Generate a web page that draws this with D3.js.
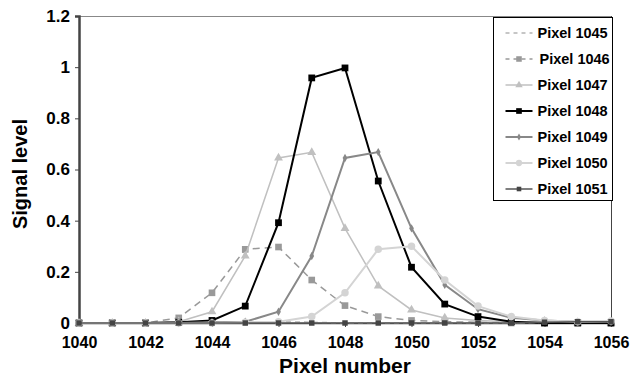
<!DOCTYPE html>
<html>
<head>
<meta charset="utf-8">
<script src="https://cdn.jsdelivr.net/npm/d3@7"></script>
<style>
  body { margin: 0; background: #fff; }
  text { font-family: "Liberation Sans", Arial, sans-serif; font-weight: bold; }
</style>
</head>
<body>
<div class="chart"></div>
<script>
const pixels = [1040, 1041, 1042, 1043, 1044, 1045, 1046, 1047, 1048, 1049, 1050, 1051, 1052, 1053, 1054, 1055, 1056];
const xTicks = [1040, 1042, 1044, 1046, 1048, 1050, 1052, 1054, 1056];
const yTicks = [0, 0.2, 0.4, 0.6, 0.8, 1, 1.2];
const seriesNames = ['Pixel 1045', 'Pixel 1046', 'Pixel 1047', 'Pixel 1048', 'Pixel 1049', 'Pixel 1050', 'Pixel 1051'];

const p1045 = [0, 0, 0, 0, 0.003, 0.005, 0.005, 0.003, 0, 0, 0, 0, 0, 0, 0, 0, 0];
const p1046 = [0, 0, 0, 0.02, 0.118, 0.288, 0.297, 0.168, 0.068, 0.025, 0.01, 0.005, 0.003, 0, 0, 0, 0];
const p1047 = [0, 0, 0, 0.005, 0.044, 0.262, 0.645, 0.667, 0.37, 0.145, 0.051, 0.02, 0.01, 0.005, 0.003, 0, 0];
const p1048 = [0, 0, 0, 0.003, 0.01, 0.066, 0.392, 0.958, 0.997, 0.555, 0.218, 0.074, 0.025, 0.005, 0, 0, 0];
const p1049 = [0, 0, 0, 0, 0.003, 0.005, 0.044, 0.262, 0.645, 0.668, 0.37, 0.149, 0.054, 0.02, 0.01, 0.005, 0.005];
const p1050 = [0, 0, 0, 0, 0, 0.003, 0.005, 0.025, 0.118, 0.288, 0.3, 0.168, 0.066, 0.025, 0.01, 0.005, 0.008];
const p1051 = [0, 0, 0, 0, 0, 0, 0, 0, 0, 0, 0, 0, 0, 0, 0.003, 0.005, 0.005];

const seriesValues = [p1045, p1046, p1047, p1048, p1049, p1050, p1051];

// look of each series
const styles = [
  {stroke: '#b4b4b4', width: 1.5, dash: '5,4', marker: null, fill: null, size: 0},
  {stroke: '#999999', width: 1.5, dash: '7,5', marker: d3.symbolSquare, fill: '#999999', size: 44},
  {stroke: '#c0c0c0', width: 1.5, dash: null, marker: d3.symbolTriangle, fill: '#c0c0c0', size: 34},
  {stroke: '#000000', width: 2, dash: null, marker: d3.symbolSquare, fill: '#000000', size: 46},
  {stroke: '#888888', width: 2, dash: null, marker: d3.symbolDiamond, fill: '#888888', size: 20},
  {stroke: '#d4d4d4', width: 2, dash: null, marker: d3.symbolCircle, fill: '#d4d4d4', size: 44},
  {stroke: '#555555', width: 1.5, dash: null, marker: d3.symbolSquare, fill: '#444444', size: 30}
];

const W = 642, H = 377;
const margin = {top: 16, right: 31, bottom: 54, left: 79};
const width = W - margin.left - margin.right;
const height = H - margin.top - margin.bottom;

const svg = d3.select('.chart')
  .append('svg')
  .attr('width', W)
  .attr('height', H);

const g = svg.append('g')
  .attr('transform', `translate(${margin.left}, ${margin.top})`);

const xScale = d3.scaleLinear().domain([1040, 1056]).range([0, width]);
const yScale = d3.scaleLinear().domain([0, 1.2]).range([height, 0]);

// plot frame (top and right)
g.append('line')
  .attr('x1', 0).attr('x2', width).attr('y1', 0.5).attr('y2', 0.5)
  .attr('stroke', '#888').attr('stroke-width', 1);
g.append('line')
  .attr('x1', width + 0.5).attr('x2', width + 0.5).attr('y1', 0).attr('y2', height)
  .attr('stroke', '#444').attr('stroke-width', 1);

const xAxis = d3.axisBottom(xScale)
  .tickValues(xTicks)
  .tickFormat(d3.format('d'))
  .tickSize(4)
  .tickPadding(10);

const yAxis = d3.axisLeft(yScale)
  .tickValues(yTicks)
  .tickFormat(d => d)
  .tickSize(4)
  .tickPadding(5);

const gx = g.append('g')
  .attr('transform', `translate(0, ${height})`)
  .call(xAxis);
gx.select('.domain').attr('stroke', '#444').attr('stroke-width', 1.5);
gx.selectAll('.tick line').attr('stroke', '#444');
gx.selectAll('.tick text').attr('fill', '#000').style('font-size', '16px').style('font-weight', 'bold')
  .style('font-family', '"Liberation Sans", Arial, sans-serif');

const gy = g.append('g').call(yAxis);
gy.select('.domain').attr('stroke', '#444').attr('stroke-width', 2.5);
gy.selectAll('.tick line').attr('stroke', '#444');
gy.selectAll('.tick text').attr('fill', '#000').style('font-size', '17px').style('font-weight', 'bold')
  .style('font-family', '"Liberation Sans", Arial, sans-serif');

const line = d3.line()
  .x((d, i) => xScale(pixels[i]))
  .y(d => yScale(d));

seriesValues.forEach((vals, k) => {
  const s = styles[k];
  g.append('path')
    .datum(vals)
    .attr('fill', 'none')
    .attr('stroke', s.stroke)
    .attr('stroke-width', s.width)
    .attr('stroke-dasharray', s.dash)
    .attr('d', line);
  if (s.marker) {
    g.selectAll('.m' + k)
      .data(vals)
      .enter()
      .append('path')
      .attr('class', 'm' + k)
      .attr('transform', (d, i) => `translate(${xScale(pixels[i])}, ${yScale(d)})`)
      .attr('d', d3.symbol().type(s.marker).size(s.size))
      .attr('fill', s.fill);
  }
});

// legend
const legend = svg.append('g').attr('transform', 'translate(493.5, 17.5)');
legend.append('rect')
  .attr('width', 119).attr('height', 183)
  .attr('fill', '#fff').attr('stroke', '#000').attr('stroke-width', 1);

seriesNames.forEach((name, k) => {
  const s = styles[k];
  const yy = 15.5 + k * 26;
  const item = legend.append('g').attr('transform', `translate(0, ${yy})`);
  item.append('line')
    .attr('x1', 12).attr('x2', 39).attr('y1', 0).attr('y2', 0)
    .attr('stroke', s.stroke)
    .attr('stroke-width', s.width)
    .attr('stroke-dasharray', s.dash ? '4,4' : null);
  if (s.marker) {
    item.append('path')
      .attr('transform', 'translate(25.5, 0)')
      .attr('d', d3.symbol().type(s.marker).size(s.size * 0.7))
      .attr('fill', s.fill);
  }
  item.append('text')
    .attr('x', k === 1 ? 46 : 44)
    .attr('y', 5)
    .style('font-size', '14.5px')
    .text(name);
});

// axis titles
svg.append('text')
  .attr('x', margin.left + xScale(1048))
  .attr('y', 373)
  .attr('text-anchor', 'middle')
  .style('font-size', '21px')
  .text('Pixel number');

svg.append('text')
  .attr('transform', 'translate(27, 174) rotate(-90)')
  .attr('text-anchor', 'middle')
  .style('font-size', '20px')
  .text('Signal level');
</script>
</body>
</html>
